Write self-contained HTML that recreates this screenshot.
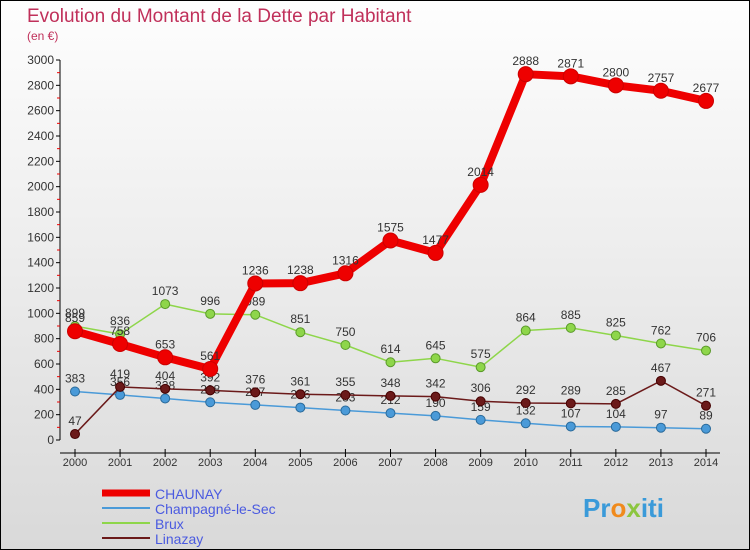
<!DOCTYPE html>
<html><head><meta charset="utf-8"><style>
body{margin:0;width:750px;height:550px;overflow:hidden;font-family:"Liberation Sans",sans-serif}
#wrap{position:absolute;left:0;top:0;width:748px;height:548px;border:1px solid #000;background:linear-gradient(#fefefe,#d9d9d9)}
</style></head><body>
<div id="wrap">
<svg id="chart" width="750" height="550" style="position:absolute;left:-1px;top:-1px">
<text x="27" y="22" font-size="19" fill="#c0305a">Evolution du Montant de la Dette par Habitant</text>
<text x="27" y="40" font-size="12" fill="#c0305a">(en €)</text>
<g id="axes"></g><g id="series"></g><g id="legend"></g>
<text x="583" y="517" font-size="26" font-weight="bold" fill="#3a9ad9">Pr<tspan fill="#f08a1c">o</tspan><tspan fill="#8cc63f">x</tspan>iti</text>
</svg></div>
<script>
const years=[2000,2001,2002,2003,2004,2005,2006,2007,2008,2009,2010,2011,2012,2013,2014];
const chaunay=[859,758,653,561,1236,1238,1316,1575,1477,2014,2888,2871,2800,2757,2677];
const champagne=[383,356,328,298,277,256,233,212,190,159,132,107,104,97,89];
const brux=[899,836,1073,996,989,851,750,614,645,575,864,885,825,762,706];
const linazay=[47,419,404,392,376,361,355,348,342,306,292,289,285,467,271];
const yTicks=[0,200,400,600,800,1000,1200,1400,1600,1800,2000,2200,2400,2600,2800,3000];
const NS='http://www.w3.org/2000/svg';
const X=i=>75+i*(706-75)/(years.length-1);
const Y=v=>440-v*380/3000;
function mk(t,a,p){const e=document.createElementNS(NS,t);for(const k in a)e.setAttribute(k,a[k]);p.appendChild(e);return e;}
const ax=document.getElementById('axes');
const yl=mk('line',{x1:60,y1:60,x2:60,y2:440,stroke:'#000'},ax);


yTicks.forEach(v=>{
 mk('line',{x1:56,y1:Y(v),x2:60,y2:Y(v),stroke:'#000'},ax);
 if(v<3000)mk('line',{x1:57,y1:Y(v+100),x2:60,y2:Y(v+100),stroke:'#e00'},ax);
 const t=mk('text',{x:54,y:Y(v)+4,'font-size':12,fill:'#333','text-anchor':'end'},ax);t.textContent=v;
 
 
});
const xl=mk('line',{x1:60,y1:453,x2:720,y2:453,stroke:'#000'},ax);


years.forEach((y,i)=>{
 mk('line',{x1:X(i),y1:449,x2:X(i),y2:457,stroke:'#000'},ax);
 const t=mk('text',{x:X(i),y:466,'font-size':11,fill:'#333','text-anchor':'middle'},ax);t.textContent=y;
 
 
});
const se=document.getElementById('series');
function series(d,color,w,r,name,dark){
 const g=mk('g',{},se);
 
 
 mk('polyline',{points:d.map((v,i)=>X(i)+','+Y(v)).join(' '),fill:'none',stroke:color,'stroke-width':w,'stroke-linejoin':'round'},g);
 d.forEach((v,i)=>{
  const c=mk('circle',{cx:X(i),cy:Y(v),r:r,fill:color,stroke:dark,'stroke-width':1},g);
  
  
  const t=mk('text',{x:X(i),y:Y(v)-9,'font-size':12,fill:'#333','text-anchor':'middle'},g);t.textContent=v;
  
  
 });
}
series(champagne,'#4a9ad8',1.5,4.5,'champagne','#2a6a9a');
series(linazay,'#6b1a1a',1.5,4.5,'linazay','#400');
series(brux,'#8ed64a',1.5,4.5,'brux','#5a9a2a');
series(chaunay,'#ee0000',8,7.5,'chaunay','#c00');
const lg=document.getElementById('legend');
[['CHAUNAY','#ee0000',7],['Champagné-le-Sec','#4a9ad8',2],['Brux','#8ed64a',2],['Linazay','#6b1a1a',2]].forEach((s,i)=>{
 const y=493+i*15;
 const l=mk('line',{x1:102,y1:y,x2:150,y2:y,stroke:s[1],'stroke-width':s[2]},lg);
 
 
 const t=mk('text',{x:155,y:y+6,'font-size':14,fill:'#4a5ae0'},lg);t.textContent=s[0];
 
 
});
</script>
</body></html>
